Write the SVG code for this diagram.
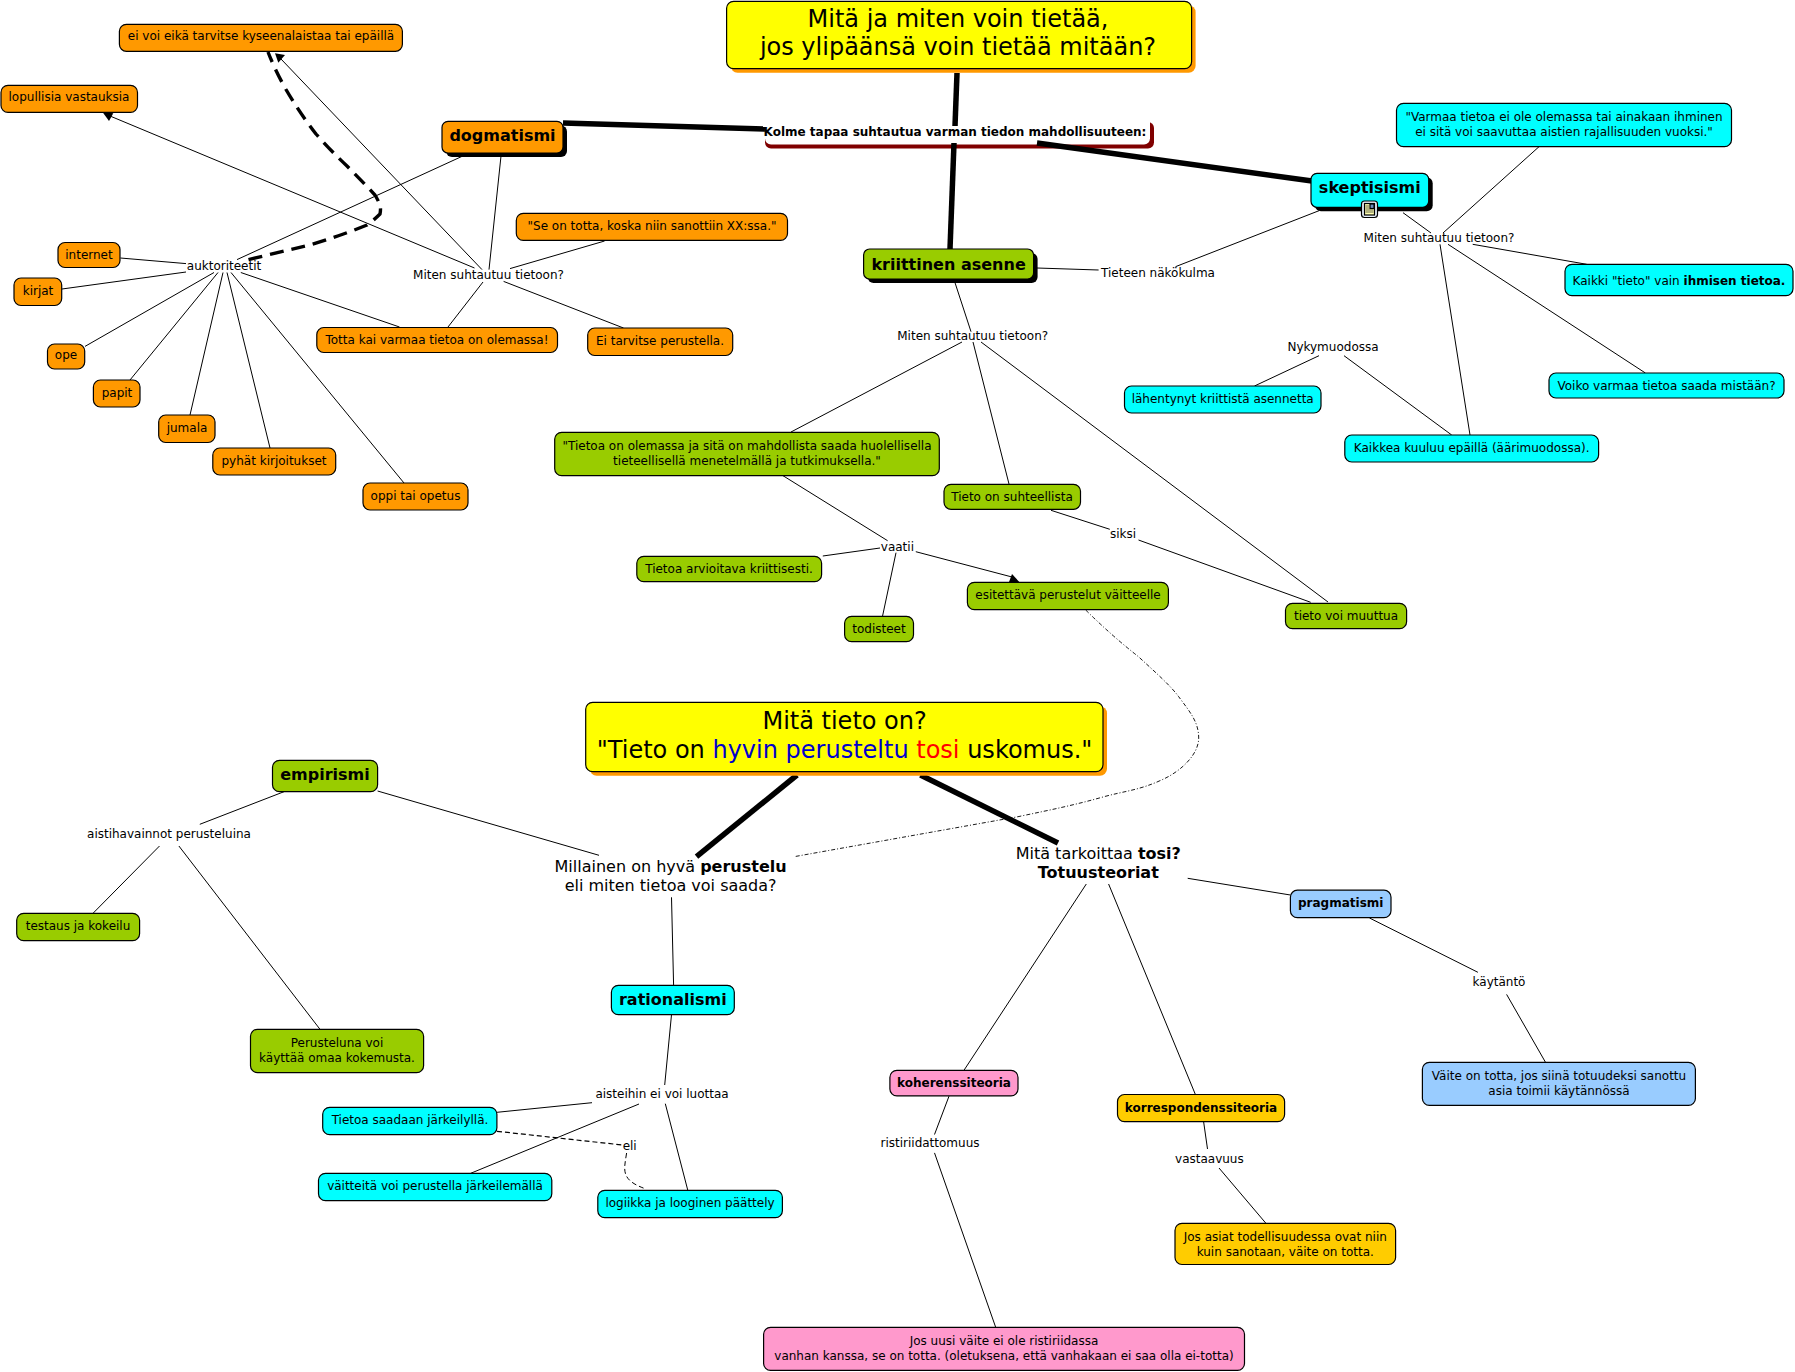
<svg xmlns="http://www.w3.org/2000/svg" width="1795" height="1372" viewBox="0 0 1795 1372">
<style>
text{font-family:"DejaVu Sans",Verdana,sans-serif;fill:#000;text-anchor:middle;font-size:12px}
.b{font-weight:bold}
.big{font-size:24px}
.mid{font-size:16px}
.h{font-size:16px;font-weight:bold}
.h2{font-size:12px;font-weight:bold}
rect{stroke:#000;stroke-width:1.2}
.or{fill:#f90}.gr{fill:#9c0}.cy{fill:#0ff}.ye{fill:#ff0}.bl{fill:#9cf}.pi{fill:#f9c}.go{fill:#fc0}
.sk{fill:#000;stroke:none}.so{fill:#f90;stroke:none}
.dr{fill:#800000;stroke:none}.wh{fill:#fff;stroke:none}
#c line,#c path{stroke:#000;stroke-width:1;fill:none}
#c .t{stroke-width:5.5}
#c polygon{fill:#000}
</style>
<g id="n-kolme"><rect class="dr" x="765" y="122" width="389" height="26.5" rx="6"/><rect class="wh" x="765" y="112" width="385" height="32.5" rx="6"/><text class="h2" x="955" y="136">Kolme tapaa suhtautua varman tiedon mahdollisuuteen:</text></g>
<g id="c">
<line class="t" x1="957" y1="73" x2="955" y2="126"/><line class="t" x1="954" y1="143" x2="950" y2="249"/><line class="t" x1="1037" y1="143" x2="1312" y2="181"/><line class="t" x1="563" y1="123" x2="765" y2="129"/>
<line x1="462.8" y1="156" x2="237" y2="259.6"/><line x1="501" y1="156" x2="489" y2="269.6"/>
<path d="M248.5 259.6Q280 252 311 244.6Q340 236 367 225Q374 220 380 214Q381 209 380 205Q378 200 375 195Q361 180 347 166Q330 150 316 134Q299 112 285.7 89Q275 70 268 52" style="stroke-width:3.4;stroke-dasharray:14 8"/>
<line x1="482" y1="269.6" x2="281" y2="59"/><polygon points="275,53.3 285,55 278.3,62.7"/>
<line x1="474.5" y1="268" x2="110" y2="116"/><polygon points="102.3,111.7 113.3,113.3 109,121"/>
<line x1="510" y1="268.6" x2="604.6" y2="241"/><line x1="483" y1="282" x2="448" y2="327"/><line x1="503.6" y1="281.4" x2="623.5" y2="328"/>
<line x1="240.8" y1="272.5" x2="399.5" y2="327"/><line x1="186" y1="263.6" x2="120.4" y2="258"/><line x1="186" y1="272" x2="62" y2="289"/>
<line x1="214" y1="272.5" x2="85" y2="346.4"/><line x1="218" y1="272.5" x2="130" y2="380"/><line x1="223" y1="272.5" x2="190" y2="415"/><line x1="227" y1="272.5" x2="270" y2="448"/><line x1="231" y1="272.5" x2="404" y2="483"/>
<line x1="1319" y1="210.7" x2="1175.5" y2="266.7"/><line x1="1037" y1="268" x2="1098.6" y2="270"/><line x1="955" y1="282.7" x2="971" y2="331.7"/>
<line x1="962" y1="342" x2="791" y2="432"/><line x1="973" y1="342" x2="1009" y2="484"/><line x1="981" y1="342" x2="1328" y2="602"/>
<line x1="1403" y1="212.7" x2="1431" y2="233"/><line x1="1539" y1="146.7" x2="1443" y2="233"/><line x1="1472.7" y1="244.3" x2="1586.7" y2="264.3"/><line x1="1448" y1="244.3" x2="1645.4" y2="373"/><line x1="1440" y1="244.3" x2="1470" y2="435"/>
<line x1="1319" y1="355.7" x2="1254.5" y2="386"/><line x1="1344" y1="355.7" x2="1451.7" y2="435"/>
<line x1="783" y1="475.7" x2="887.6" y2="540.7"/><line x1="880" y1="548" x2="822.8" y2="556"/><line x1="896" y1="552.7" x2="882.5" y2="616.3"/><line x1="915.8" y1="551.7" x2="1012" y2="577"/><polygon points="1012,574 1009,582 1019.3,582"/>
<line x1="1051" y1="510.3" x2="1109.8" y2="529.3"/><line x1="1138.5" y1="540" x2="1310.7" y2="602.3"/>
<path d="M1085.7 610Q1112 636 1138.5 656.7C1155 672 1170 685 1178.7 696.7C1190 712 1198.7 722 1198.7 738C1198.7 755 1180 772 1161.5 780C1140 790 1125 791 1104 796.7C1075 805 1050 810 1018 816.7L794 856.7" style="stroke-dasharray:4 2 1 2;stroke-width:.9"/>
<line class="t" x1="797" y1="775" x2="696.5" y2="856.7"/><line class="t" x1="920.4" y1="775" x2="1058" y2="843"/>
<line x1="377.6" y1="791" x2="599" y2="855.3"/><line x1="284" y1="791.7" x2="199.8" y2="824.3"/><line x1="159.5" y1="846" x2="93" y2="913.3"/><line x1="178.9" y1="846" x2="320" y2="1029.3"/>
<line x1="671.5" y1="897.3" x2="673.6" y2="985.3"/><line x1="671.5" y1="1014.7" x2="664.7" y2="1085"/>
<line x1="592" y1="1102.7" x2="497" y2="1112.3"/><line x1="639" y1="1104" x2="470.7" y2="1173.3"/><line x1="665.3" y1="1103.7" x2="687.8" y2="1190.3"/>
<line x1="497" y1="1131.3" x2="622.4" y2="1145" style="stroke-dasharray:5 3;stroke-width:1.2"/><path d="M626.6 1153C624 1170 620 1180 646 1189" style="stroke-dasharray:5 3"/>
<line x1="1187.7" y1="878.3" x2="1290.4" y2="895"/><line x1="1086.3" y1="884" x2="963.9" y2="1070.4"/><line x1="1108.6" y1="884" x2="1195.4" y2="1094.5"/>
<line x1="1369.5" y1="918" x2="1477.9" y2="972.3"/><line x1="1506.6" y1="994.4" x2="1545.5" y2="1062.3"/>
<line x1="949" y1="1096.2" x2="934.5" y2="1134.5"/><line x1="934.5" y1="1152.9" x2="995.7" y2="1327.3"/>
<line x1="1203.6" y1="1121.6" x2="1207.5" y2="1149"/><line x1="1219" y1="1168" x2="1266" y2="1223.4"/>
</g>
<g id="n-title1"><rect class="so" x="730.6" y="5.3" width="465" height="67.4" rx="7"/><rect class="ye" x="726.6" y="1.3" width="465" height="67.4" rx="7"/><text class="big" x="958" y="26.5">Mitä ja miten voin tietää,</text><text class="big" x="958" y="55">jos ylipäänsä voin tietää mitään?</text></g>
<g id="n-title2"><rect class="so" x="589.7" y="706.3" width="517.3" height="69.4" rx="7"/><rect class="ye" x="585.7" y="702.3" width="517.3" height="69.4" rx="7"/><text class="big" x="844.6" y="729">Mitä tieto on?</text><text class="big" x="844.6" y="758">"Tieto on <tspan fill="#0000cc">hyvin perusteltu</tspan> <tspan fill="#f00">tosi</tspan> uskomus."</text></g>
<g id="n-dog"><rect class="sk" x="446" y="125.4" width="121" height="31.6" rx="6"/><rect class="or" x="442" y="121.4" width="121" height="31.6" rx="6"/><text class="h" x="502.5" y="141">dogmatismi</text></g>
<g id="n-kri"><rect class="sk" x="867.6" y="253" width="170" height="30" rx="6"/><rect class="gr" x="863.6" y="249" width="170" height="30" rx="6"/><text class="h" x="948.6" y="269.5">kriittinen asenne</text></g>
<g id="n-ske"><rect class="sk" x="1315" y="177.3" width="117.7" height="34" rx="6"/><rect class="cy" x="1311" y="173.3" width="117.7" height="34" rx="6"/><text class="h" x="1369.8" y="193">skeptisismi</text><g id="icon"><rect x="1361.5" y="201" width="16" height="16.5" rx="3" fill="#e6effa" stroke="#3a78c8" stroke-width="1.2"/><rect x="1364.5" y="203.5" width="10" height="11.5" fill="#ffffb0" stroke="#222" stroke-width=".7"/><rect x="1370" y="204" width="4" height="4.5" fill="#6f8fc0" stroke="none"/><path d="M1365.5 206h3.5M1365.5 208h3.5M1365.5 210h8M1365.5 212h8" stroke="#222" stroke-width=".7" fill="none"/></g></g>
<g id="n1"><rect class="or" x="119.4" y="24.3" width="283" height="27" rx="7"/><text x="261" y="40">ei voi eikä tarvitse kyseenalaistaa tai epäillä</text></g>
<g id="n2"><rect class="or" x="1" y="85.4" width="136.5" height="27" rx="7"/><text x="69" y="101">lopullisia vastauksia</text></g>
<g id="n3"><rect class="or" x="58" y="242.5" width="62" height="25" rx="7"/><text x="89" y="259">internet</text></g>
<g id="n4"><rect class="or" x="14" y="278" width="47.7" height="27.5" rx="7"/><text x="38" y="295">kirjat</text></g>
<g id="n5"><rect class="or" x="47.5" y="344" width="37.2" height="25" rx="7"/><text x="66" y="359">ope</text></g>
<g id="n6"><rect class="or" x="93.4" y="380" width="46.6" height="27" rx="7"/><text x="117" y="397">papit</text></g>
<g id="n7"><rect class="or" x="158.7" y="415" width="56.3" height="27.5" rx="7"/><text x="187" y="432">jumala</text></g>
<g id="n8"><rect class="or" x="212.8" y="448" width="122.9" height="27" rx="7"/><text x="274" y="465">pyhät kirjoitukset</text></g>
<g id="n9"><rect class="or" x="363" y="483" width="105" height="27" rx="7"/><text x="415.5" y="500">oppi tai opetus</text></g>
<g id="n10"><rect class="or" x="516.3" y="213.4" width="271.2" height="27" rx="7"/><text x="652" y="229.5">"Se on totta, koska niin sanottiin XX:ssa."</text></g>
<g id="n11"><rect class="or" x="316.8" y="327.5" width="240.7" height="25" rx="7"/><text x="437" y="344">Totta kai varmaa tietoa on olemassa!</text></g>
<g id="n12"><rect class="or" x="587.7" y="328" width="145" height="27.5" rx="7"/><text x="660" y="345">Ei tarvitse perustella.</text></g>
<g id="n13"><rect class="cy" x="1396.5" y="103.3" width="335" height="43.4" rx="7"/><text x="1564" y="121">"Varmaa tietoa ei ole olemassa tai ainakaan ihminen</text><text x="1564" y="136">ei sitä voi saavuttaa aistien rajallisuuden vuoksi."</text></g>
<g id="n14"><rect class="cy" x="1565" y="264.3" width="228" height="31.4" rx="7"/><text x="1679" y="285">Kaikki "tieto" vain <tspan class="b">ihmisen tietoa.</tspan></text></g>
<g id="n15"><rect class="cy" x="1549" y="373" width="235" height="25" rx="7"/><text x="1666.5" y="390">Voiko varmaa tietoa saada mistään?</text></g>
<g id="n16"><rect class="cy" x="1344.8" y="435" width="253.8" height="27" rx="7"/><text x="1471.7" y="452">Kaikkea kuuluu epäillä (äärimuodossa).</text></g>
<g id="n17"><rect class="cy" x="1124.5" y="386" width="196.5" height="27" rx="7"/><text x="1222.7" y="403">lähentynyt kriittistä asennetta</text></g>
<g id="n18"><rect class="gr" x="554.7" y="432.3" width="384.6" height="43.4" rx="7"/><text x="747" y="450">"Tietoa on olemassa ja sitä on mahdollista saada huolellisella</text><text x="747" y="465">tieteellisellä menetelmällä ja tutkimuksella."</text></g>
<g id="n19"><rect class="gr" x="944" y="484.3" width="136.5" height="25" rx="7"/><text x="1012" y="501">Tieto on suhteellista</text></g>
<g id="n20"><rect class="gr" x="1285.5" y="603.3" width="121.1" height="25.4" rx="7"/><text x="1346" y="620">tieto voi muuttua</text></g>
<g id="n21"><rect class="gr" x="636.8" y="556.3" width="184.8" height="25.4" rx="7"/><text x="729" y="573">Tietoa arvioitava kriittisesti.</text></g>
<g id="n22"><rect class="gr" x="967.4" y="582.3" width="201" height="27.4" rx="7"/><text x="1068" y="599">esitettävä perustelut väitteelle</text></g>
<g id="n23"><rect class="gr" x="844.6" y="616.3" width="68.9" height="25.4" rx="7"/><text x="879" y="633">todisteet</text></g>
<g id="n24"><rect class="gr" x="272.5" y="760.3" width="105.1" height="31.4" rx="7"/><text class="h" x="325" y="780">empirismi</text></g>
<g id="n25"><rect class="gr" x="16.7" y="913.3" width="122.9" height="27.4" rx="7"/><text x="78" y="930">testaus ja kokeilu</text></g>
<g id="n26"><rect class="gr" x="250.5" y="1029.3" width="173.1" height="43.4" rx="7"/><text x="337" y="1046.5">Perusteluna voi</text><text x="337" y="1061.5">käyttää omaa kokemusta.</text></g>
<g id="n27"><rect class="cy" x="611.4" y="985.3" width="122.9" height="29.4" rx="7"/><text class="h" x="672.8" y="1004.5">rationalismi</text></g>
<g id="n28"><rect class="cy" x="322.7" y="1107.3" width="174.2" height="27.4" rx="7"/><text x="410" y="1124">Tietoa saadaan järkeilyllä.</text></g>
<g id="n29"><rect class="cy" x="318.5" y="1173.3" width="233.3" height="27.4" rx="7"/><text x="435" y="1190">väitteitä voi perustella järkeilemällä</text></g>
<g id="n30"><rect class="cy" x="597.8" y="1190.3" width="184.6" height="27.4" rx="7"/><text x="690" y="1207">logiikka ja looginen päättely</text></g>
<g id="n31"><rect class="bl" x="1290.4" y="890.2" width="100.6" height="27.5" rx="7"/><text class="h2" x="1340.7" y="907">pragmatismi</text></g>
<g id="n32"><rect class="bl" x="1422.4" y="1062.3" width="273" height="43.1" rx="7"/><text x="1559" y="1080">Väite on totta, jos siinä totuudeksi sanottu</text><text x="1559" y="1095">asia toimii käytännössä</text></g>
<g id="n33"><rect class="pi" x="889.9" y="1070.4" width="128.1" height="25.5" rx="7"/><text class="h2" x="954" y="1087">koherenssiteoria</text></g>
<g id="n34"><rect class="go" x="1117.5" y="1094.5" width="167.1" height="27.1" rx="7"/><text class="h2" x="1201" y="1112">korrespondenssiteoria</text></g>
<g id="n35"><rect class="go" x="1175" y="1223.4" width="220.6" height="41.1" rx="7"/><text x="1285.3" y="1240.5">Jos asiat todellisuudessa ovat niin</text><text x="1285.3" y="1255.5">kuin sanotaan, väite on totta.</text></g>
<g id="n36"><rect class="pi" x="763.6" y="1327.3" width="480.9" height="43.1" rx="7"/><text x="1004" y="1344.5">Jos uusi väite ei ole ristiriidassa</text><text x="1004" y="1359.5">vanhan kanssa, se on totta. (oletuksena, että vanhakaan ei saa olla ei-totta)</text></g>
<g id="labels">
<text x="224" y="270">auktoriteetit</text><text x="488.5" y="279">Miten suhtautuu tietoon?</text><text x="1439" y="242">Miten suhtautuu tietoon?</text><text x="972.7" y="340">Miten suhtautuu tietoon?</text><text x="1333" y="351">Nykymuodossa</text><text x="1158" y="277">Tieteen näkökulma</text><text x="1123" y="538">siksi</text><text x="897.4" y="551">vaatii</text><text x="169" y="838">aistihavainnot perusteluina</text><text x="662" y="1098">aisteihin ei voi luottaa</text><text x="629.7" y="1150">eli</text><text x="1499" y="986">käytäntö</text><text x="930" y="1147">ristiriidattomuus</text><text x="1209.4" y="1162.5">vastaavuus</text>
<text class="mid" x="1098.3" y="858.5">Mitä tarkoittaa <tspan class="b">tosi?</tspan></text><text class="mid b" x="1098.3" y="878">Totuusteoriat</text>
<text class="mid" x="670.6" y="871.5">Millainen on hyvä <tspan class="b">perustelu</tspan></text><text class="mid" x="670.6" y="891">eli miten tietoa voi saada?</text>
</g>
</svg>
